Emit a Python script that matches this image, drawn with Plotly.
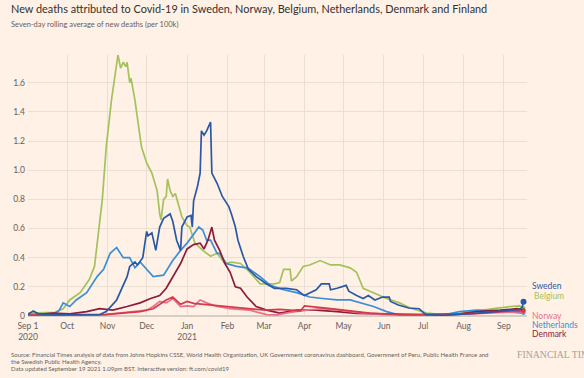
import plotly.graph_objects as go

# ---------------- data ----------------
belgium_dates = ["2020-09-01","2020-09-10","2020-09-22","2020-09-28","2020-10-03","2020-10-11","2020-10-18",
    "2020-10-22","2020-10-26","2020-10-28","2020-10-31","2020-11-04","2020-11-09","2020-11-11","2020-11-13",
    "2020-11-15","2020-11-16","2020-11-18","2020-11-19","2020-11-22","2020-11-27","2020-12-01","2020-12-05",
    "2020-12-09","2020-12-11","2020-12-12","2020-12-14","2020-12-16","2020-12-17","2020-12-19","2020-12-21",
    "2020-12-23","2020-12-28","2021-01-01","2021-01-03","2021-01-07","2021-01-13","2021-01-19","2021-01-24",
    "2021-01-30","2021-02-04","2021-02-11","2021-02-18","2021-02-26","2021-03-03","2021-03-09","2021-03-13",
    "2021-03-16","2021-03-21","2021-03-22","2021-03-26","2021-03-31","2021-04-05","2021-04-13","2021-04-21",
    "2021-04-28","2021-05-06","2021-05-11","2021-05-16","2021-05-21","2021-06-03","2021-06-13","2021-06-21",
    "2021-07-04","2021-07-16","2021-07-29","2021-08-11","2021-08-24","2021-09-06","2021-09-13","2021-09-16"]
belgium_vals = [0.02,0.02,0.025,0.05,0.11,0.16,0.25,
    0.34,0.62,0.80,1.16,1.48,1.79,1.70,1.74,
    1.71,1.74,1.60,1.63,1.48,1.16,1.05,0.98,
    0.86,0.70,0.66,0.80,0.82,0.94,0.86,0.82,
    0.84,0.68,0.62,0.61,0.50,0.45,0.41,0.43,
    0.36,0.37,0.36,0.30,0.22,0.22,0.22,0.23,
    0.32,0.32,0.24,0.27,0.34,0.35,0.38,0.35,
    0.35,0.33,0.30,0.19,0.17,0.12,0.09,0.055,
    0.02,0.01,0.015,0.035,0.05,0.065,0.07,0.055]

sweden_dates = ["2020-09-01","2020-09-05","2020-09-09","2020-09-21","2020-10-11","2020-10-26","2020-10-31",
    "2020-11-08","2020-11-16","2020-11-18","2020-11-22","2020-11-24","2020-11-28","2020-12-01","2020-12-02",
    "2020-12-05","2020-12-08","2020-12-11","2020-12-14","2020-12-19","2020-12-21","2020-12-24","2020-12-27",
    "2020-12-28","2021-01-01","2021-01-04","2021-01-05","2021-01-06","2021-01-09","2021-01-11","2021-01-12",
    "2021-01-14","2021-01-16","2021-01-19","2021-01-20","2021-01-24","2021-01-28","2021-02-02","2021-02-04",
    "2021-02-07","2021-02-09","2021-02-13","2021-02-17","2021-02-23","2021-03-03","2021-03-09","2021-03-18",
    "2021-03-26","2021-04-01","2021-04-10","2021-04-14","2021-04-20","2021-04-21","2021-04-26","2021-05-03",
    "2021-05-05","2021-05-11","2021-05-16","2021-05-20","2021-05-25","2021-05-31","2021-06-05","2021-06-06",
    "2021-06-12","2021-06-20","2021-06-28","2021-07-03","2021-07-18","2021-08-12","2021-08-24","2021-09-06",
    "2021-09-13","2021-09-15","2021-09-16"]
sweden_vals = [0.01,0.035,0.015,0.01,0.01,0.01,0.03,
    0.11,0.27,0.34,0.37,0.35,0.40,0.58,0.55,
    0.57,0.45,0.61,0.67,0.70,0.65,0.52,0.45,
    0.61,0.68,0.69,0.61,0.79,0.89,0.98,1.27,
    1.24,1.27,1.33,0.98,0.91,0.82,0.75,0.70,
    0.61,0.52,0.41,0.32,0.27,0.22,0.19,0.19,
    0.18,0.14,0.18,0.22,0.22,0.18,0.19,0.21,
    0.17,0.14,0.12,0.14,0.11,0.13,0.13,0.10,
    0.075,0.055,0.05,0.01,0.005,0.02,0.03,0.04,
    0.045,0.06,0.098]

netherlands_dates = ["2020-09-01","2020-09-11","2020-09-21","2020-09-25","2020-09-28","2020-10-03","2020-10-08",
    "2020-10-16","2020-10-24","2020-10-29","2020-11-03","2020-11-08","2020-11-13","2020-11-18","2020-11-22",
    "2020-11-26","2020-12-01","2020-12-06","2020-12-14","2020-12-21","2020-12-27","2021-01-01","2021-01-06",
    "2021-01-10","2021-01-13","2021-01-16","2021-01-19","2021-01-24","2021-01-26","2021-01-31","2021-02-08",
    "2021-02-16","2021-02-18","2021-02-26","2021-03-06","2021-03-16","2021-03-26","2021-04-05","2021-04-15",
    "2021-04-26","2021-05-06","2021-05-14","2021-05-24","2021-06-03","2021-06-13","2021-07-04","2021-07-16",
    "2021-07-29","2021-08-11","2021-08-24","2021-09-06","2021-09-16"]
netherlands_vals = [0.01,0.01,0.015,0.04,0.09,0.065,0.11,
    0.16,0.27,0.32,0.43,0.47,0.40,0.40,0.33,
    0.37,0.32,0.27,0.28,0.38,0.45,0.50,0.56,
    0.61,0.59,0.52,0.52,0.43,0.43,0.36,0.34,
    0.33,0.32,0.27,0.21,0.18,0.16,0.13,0.12,
    0.11,0.11,0.09,0.065,0.03,0.007,0.005,0.007,
    0.03,0.04,0.035,0.025,0.02]

denmark_dates = ["2020-09-01","2020-09-20","2020-10-03","2020-10-16","2020-10-26","2020-11-05","2020-11-16",
    "2020-11-26","2020-12-04","2020-12-11","2020-12-16","2020-12-21","2020-12-27","2021-01-01","2021-01-06",
    "2021-01-11","2021-01-14","2021-01-17","2021-01-20","2021-01-22","2021-01-26","2021-01-30","2021-02-03",
    "2021-02-07","2021-02-11","2021-02-16","2021-02-23","2021-03-03","2021-03-13","2021-03-26","2021-04-10",
    "2021-04-26","2021-05-11","2021-05-29","2021-06-28","2021-07-29","2021-08-11","2021-08-29","2021-09-11",
    "2021-09-16"]
denmark_vals = [0.005,0.02,0.015,0.03,0.05,0.04,0.065,
    0.09,0.12,0.14,0.19,0.27,0.36,0.46,0.49,
    0.50,0.46,0.52,0.61,0.52,0.45,0.36,0.30,
    0.20,0.19,0.13,0.065,0.04,0.02,0.04,0.04,
    0.03,0.018,0.015,0.01,0.015,0.03,0.04,0.05,
    0.04]

norway_dates = ["2020-09-01","2020-10-01","2020-10-30","2020-12-01","2020-12-06","2020-12-11","2020-12-16",
    "2020-12-21","2020-12-27","2021-01-01","2021-01-06","2021-01-11","2021-01-16","2021-01-24","2021-02-03",
    "2021-02-18","2021-03-03","2021-03-11","2021-03-21","2021-04-03","2021-04-15","2021-04-28","2021-05-11",
    "2021-06-01","2021-07-01","2021-08-01","2021-08-25","2021-09-16"]
norway_vals = [0.005,0.008,0.01,0.04,0.065,0.10,0.09,
    0.12,0.065,0.07,0.065,0.11,0.09,0.065,0.05,
    0.04,0.01,0.008,0.025,0.04,0.05,0.04,0.025,
    0.01,0.008,0.012,0.02,0.03]

finland_dates = ["2020-09-01","2020-10-01","2020-10-30","2020-11-26","2020-12-06","2020-12-16","2020-12-21",
    "2020-12-27","2021-01-01","2021-01-06","2021-01-15","2021-01-26","2021-02-07","2021-02-18","2021-03-02",
    "2021-03-13","2021-03-29","2021-04-01","2021-04-09","2021-04-21","2021-05-06","2021-05-21","2021-06-13",
    "2021-07-22","2021-08-14","2021-09-06","2021-09-16"]
finland_vals = [0.005,0.005,0.01,0.03,0.05,0.11,0.13,
    0.08,0.10,0.087,0.08,0.07,0.06,0.05,0.04,
    0.045,0.035,0.07,0.06,0.05,0.035,0.02,0.01,
    0.01,0.02,0.035,0.035]

month_ticks = ["2020-09-01","2020-10-01","2020-11-01","2020-12-01","2021-01-01","2021-02-01","2021-03-01",
               "2021-04-01","2021-05-01","2021-06-01","2021-07-01","2021-08-01","2021-09-01"]
month_labels = ["Sep 1<br>2020","Oct","Nov","Dec","Jan<br>2021","Feb","Mar","Apr","May","Jun","Jul","Aug","Sep"]
y_ticks = [0, 0.2, 0.4, 0.6, 0.8, 1.0, 1.2, 1.4, 1.6]
y_labels = ["0", "0.2", "0.4", "0.6", "0.8", "1.0", "1.2", "1.4", "1.6"]

# ---------------- styling ----------------
BG = "#fff1e5"
GRID = "#eadfd3"
FONT = "Lato"
colors = {
    "Belgium": "#a3c25c",
    "Netherlands": "#3b8ed6",
    "Denmark": "#8c1c3c",
    "Norway": "#e8708b",
    "Finland": "#d43a48",
    "Sweden": "#2a58a6",
}
series = [
    ("Belgium", belgium_dates, belgium_vals),
    ("Netherlands", netherlands_dates, netherlands_vals),
    ("Denmark", denmark_dates, denmark_vals),
    ("Norway", norway_dates, norway_vals),
    ("Finland", finland_dates, finland_vals),
    ("Sweden", sweden_dates, sweden_vals),
]

W, H = 584, 378
L, R, T, B = 28, 57, 55, 62
PW, PH = W - L - R, H - T - B

def px(x):
    return (x - L) / PW

def py(y):
    return (H - B - y) / PH

fig = go.Figure()
for name, d, v in series:
    fig.add_trace(go.Scatter(
        x=d, y=v, mode="lines", name=name,
        line=dict(color=colors[name], width=1.7), hoverinfo="skip"))
    fig.add_trace(go.Scatter(
        x=[d[-1]], y=[v[-1]], mode="markers",
        marker=dict(color=colors[name], size=6 if name == "Sweden" else 4),
        hoverinfo="skip"))

ann = []
labels = [("Sweden", 530, 286), ("Belgium", 532, 296), ("Norway", 530, 316),
          ("Netherlands", 530, 325), ("Denmark", 530, 334)]
for name, lx, ly in labels:
    ann.append(dict(text=name, xref="paper", yref="paper", x=px(lx), y=py(ly),
                    xanchor="left", yanchor="middle", showarrow=False,
                    font=dict(family=FONT, size=8.5, color=colors[name])))

ann.append(dict(text="New deaths attributed to Covid-19 in Sweden, Norway, Belgium, Netherlands, Denmark and Finland",
                xref="paper", yref="paper", x=px(9), y=py(8), xanchor="left", yanchor="middle",
                showarrow=False, font=dict(family=FONT, size=10.9, color="#33302e")))
ann.append(dict(text="Seven-day rolling average of new deaths (per 100k)",
                xref="paper", yref="paper", x=px(9), y=py(24), xanchor="left", yanchor="middle",
                showarrow=False, font=dict(family=FONT, size=7.5, color="#66605c")))
footer = ["Source: Financial Times analysis of data from Johns Hopkins CSSE, World Health Organization, UK Government coronavirus dashboard, Government of Peru, Public Health France and",
          "the Swedish Public Health Agency.",
          "Data updated September 19 2021 1.09pm BST. Interactive version: ft.com/covid19"]
for i, line in enumerate(footer):
    ann.append(dict(text=line, xref="paper", yref="paper", x=px(9), y=py(354 + 7 * i),
                    xanchor="left", yanchor="middle", showarrow=False,
                    font=dict(family=FONT, size=6.0, color="#66605c")))
ann.append(dict(text="FINANCIAL TIMES", xref="paper", yref="paper", x=px(515), y=py(354),
                xanchor="left", yanchor="middle", showarrow=False,
                font=dict(family="Liberation Serif", size=9.8, color="#a9a098")))

fig.update_layout(
    width=W, height=H, margin=dict(l=L, r=R, t=T, b=B),
    paper_bgcolor=BG, plot_bgcolor=BG, showlegend=False,
    font=dict(family=FONT, size=8.5, color="#66605c"),
    annotations=ann,
    xaxis=dict(type="date", range=["2020-09-01", "2021-09-18 16:00"],
               tickvals=month_ticks, ticktext=month_labels, showgrid=True,
               gridcolor=GRID, gridwidth=1, ticks="", showline=False, zeroline=False,
               ticklabelstandoff=3,
               tickfont=dict(family=FONT, size=8.5, color="#66605c")),
    yaxis=dict(range=[0, 1.79], tickvals=y_ticks, ticktext=y_labels, showgrid=True,
               gridcolor=GRID, gridwidth=1, ticks="", zeroline=True, zerolinecolor="#d8cdc2",
               zerolinewidth=2, ticklabelstandoff=2,
               tickfont=dict(family=FONT, size=8.5, color="#66605c")),
)

fig.write_html("out.html",
               config={"displayModeBar": False, "staticPlot": True},
               post_script="document.body.style.margin='0';document.body.style.background='#fff1e5';")
